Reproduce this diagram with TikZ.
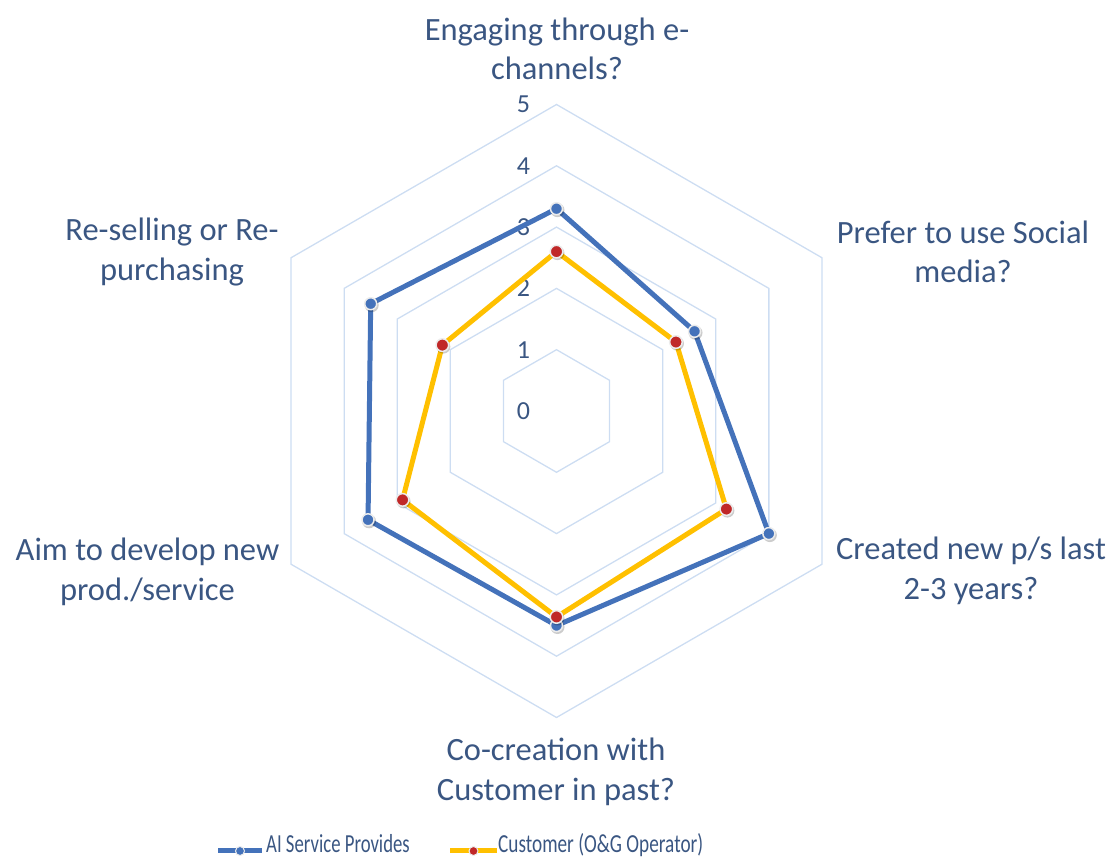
\documentclass[tikz,border=0pt]{standalone}
\usepackage{fontspec}
\setmainfont{Carlito}
\usepackage{graphicx}
\usetikzlibrary{calc}
\definecolor{labeltext}{RGB}{58,86,130}
\definecolor{gridblue}{RGB}{205,221,242}
\definecolor{provblue}{RGB}{68,114,186}
\definecolor{custyellow}{RGB}{255,192,0}
\definecolor{markred}{RGB}{192,40,40}

\begin{document}
\begin{tikzpicture}[x=1pt, y=1pt]
	\tikzstyle{every node}=[font=\fontsize{32.5}{39.5}\selectfont, text=labeltext]
	\tikzstyle{catlabel}=[align=center, inner sep=0]
	\tikzstyle{series}=[line width=5, line join=round]
	\tikzstyle{bluemark}=[fill=provblue, draw=white!85!gray, line width=1.5]
	\tikzstyle{redmark}=[fill=markred, draw=white!85!gray, line width=1.5]
	\useasboundingbox (0,0) rectangle (1115,861);

	%grid
	\begin{scope}[shift={(556.5,450)}]
	\foreach \r in {1,...,5}
	{
		\pgfmathsetmacro{\rr}{\r*61.3}
		\draw[gridblue, line width=1.3] (90:\rr) -- (30:\rr) -- (-30:\rr) -- (-90:\rr) -- (210:\rr) -- (150:\rr) -- cycle;
	}
	\foreach \r in {0,...,5}
		\node[font=\fontsize{26}{30}\selectfont] (tick\r) at (-33,{\r*61.3}) {\r};

	%data points
	\foreach \v/\a/\n in {3.3/90/1, 2.6/30/2, 4.0/-30/3, 3.5/-90/4, 3.55/210/5, 3.5/150/6}
		\coordinate (prov\n) at (\a:{\v*61.3});
	\foreach \v/\a/\n in {2.6/90/1, 2.25/30/2, 3.2/-30/3, 3.36/-90/4, 2.9/210/5, 2.15/150/6}
		\coordinate (cust\n) at (\a:{\v*61.3});

	%plots
	\draw[series, provblue] (prov1) -- (prov2) -- (prov3) -- (prov4) -- (prov5) -- (prov6) -- cycle;
	\foreach \n in {1,...,6}
	{
		\fill[black, opacity=0.2] ($(prov\n)+(1,-1.5)$) circle (7);
		\draw[bluemark] (prov\n) circle (6);
	}
	\draw[series, custyellow] (cust1) -- (cust2) -- (cust3) -- (cust4) -- (cust5) -- (cust6) -- cycle;
	\foreach \n in {1,...,6}
	{
		\fill[black, opacity=0.2] ($(cust\n)+(1,-1.5)$) circle (7);
		\draw[redmark] (cust\n) circle (6.3);
	}
	\end{scope}

	%labels
	\node[catlabel] (engage) at (557,812) {Engaging through e-\\channels?};
	\node[catlabel] (social) at (963,609) {Prefer to use Social\\media?};
	\node[catlabel] (created) at (971,290) {Created new p/s last\\2-3 years?};
	\node[catlabel] (cocreate) at (556,89) {Co-creation with\\Customer in past?};
	\node[catlabel] (develop) at (147.5,289) {Aim to develop new\\prod./service};
	\node[catlabel] (resell) at (172,609) {Re-selling or Re-\\purchasing};

	%legend
	\coordinate (provleft) at (218,10);
	\coordinate (provright) at (262,10);
	\coordinate (custleft) at (450,10);
	\coordinate (custright) at (497,10);
	\draw[series, provblue] (provleft) -- (provright);
	\fill[provblue, draw=white!85!gray, line width=1] ($(provleft)!0.5!(provright)$) circle (4.5);
	\draw[series, custyellow] (custleft) -- (custright);
	\fill[markred, draw=white!85!gray, line width=1] ($(custleft)!0.5!(custright)$) circle (4.5);
	\node[anchor=base west, inner sep=0] (provtext) at (266,9) {\scalebox{0.72}[1]{\fontsize{26}{28}\selectfont AI Service Provides}};
	\node[anchor=base west, inner sep=0] (custtext) at (498,9) {\scalebox{0.74}[1]{\fontsize{26}{28}\selectfont Customer (O\&G Operator)}};
\end{tikzpicture}
\end{document}
